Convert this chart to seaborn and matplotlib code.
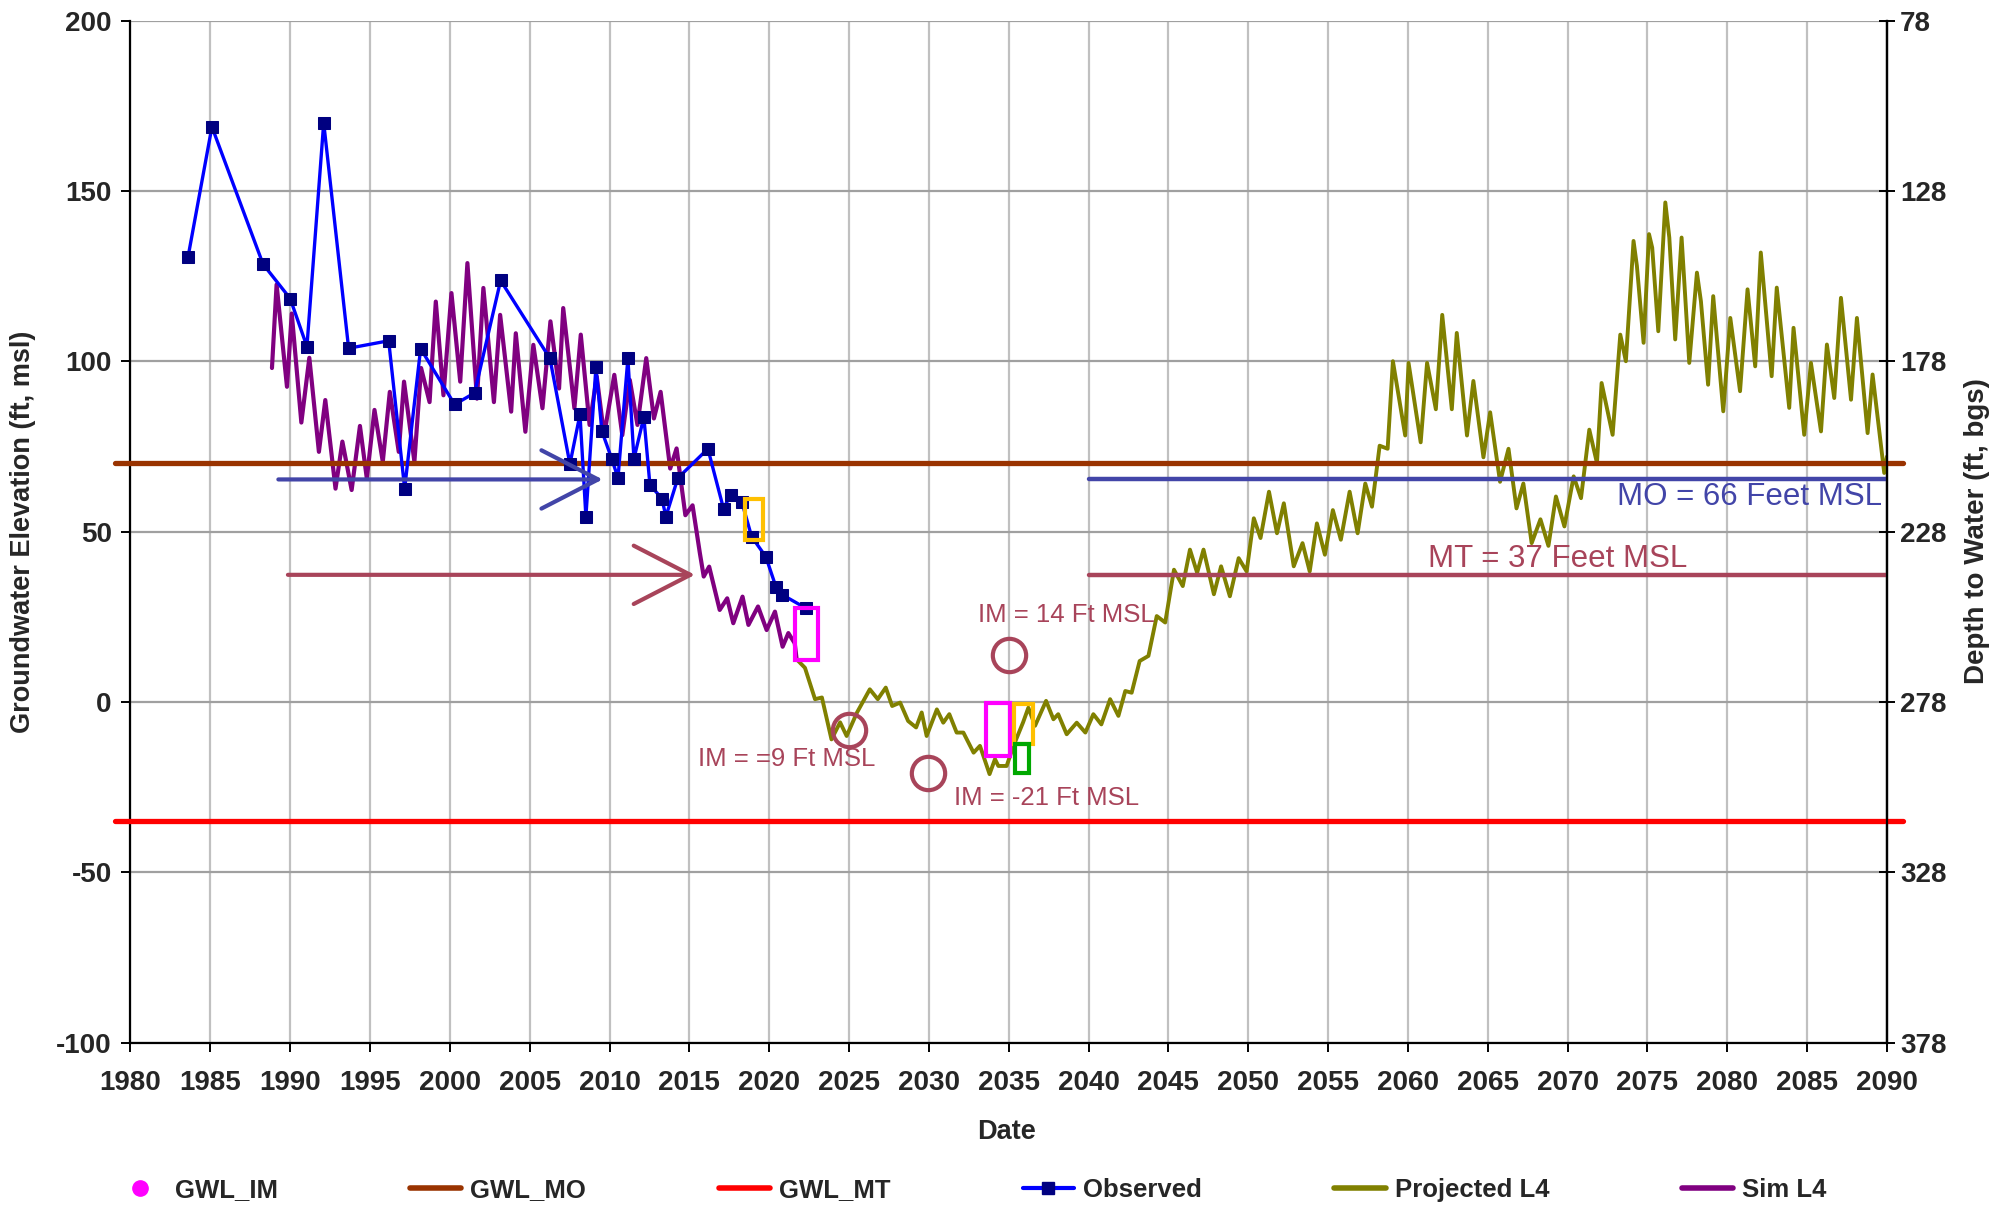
import numpy as np
import pandas as pd
import matplotlib
matplotlib.use("Agg")
import matplotlib.pyplot as plt
import seaborn as sns
from matplotlib.lines import Line2D
from matplotlib.patches import Rectangle

# ---- observed groundwater elevations (ft msl)
obs_year = [1983.6, 1985.1, 1988.3, 1990.0, 1991.05, 1992.1, 1993.66, 1996.17, 1997.17,
            1998.17, 2000.3, 2001.55, 2003.18, 2006.27, 2007.52, 2008.15, 2008.52, 2009.15,
            2009.52, 2010.15, 2010.53, 2011.15, 2011.53, 2012.15, 2012.53, 2013.28, 2013.53,
            2014.28, 2016.16, 2017.14, 2017.58, 2018.29, 2018.9, 2019.79, 2020.42, 2020.8, 2022.3]
obs_elev = [130.5, 168.8, 128.5, 118.4, 104.3, 170.0, 103.8, 106.0, 62.6,
            103.7, 87.3, 90.7, 123.7, 100.8, 69.8, 84.4, 54.4, 98.4,
            79.5, 71.2, 65.7, 100.8, 71.4, 83.6, 63.7, 59.7, 54.4,
            65.7, 74.3, 56.7, 60.8, 58.6, 48.5, 42.6, 33.8, 31.5, 27.5]

# ---- simulated (Sim L4)
sim_year = [1988.86, 1989.15, 1989.8, 1990.1, 1990.7, 1991.2, 1991.8, 1992.2, 1992.84, 1993.27,
            1993.85, 1994.37, 1994.8, 1995.28, 1995.8, 1996.24, 1996.8, 1997.13, 1997.78, 1998.2,
            1998.73, 1999.12, 1999.6, 2000.1, 2000.65, 2001.1, 2001.7, 2002.1, 2002.76, 2003.15,
            2003.84, 2004.13, 2004.73, 2005.23, 2005.8, 2006.3, 2006.84, 2007.1, 2007.8, 2008.2,
            2008.75, 2009.2, 2009.66, 2010.3, 2010.8, 2011.27, 2011.75, 2012.3, 2012.78, 2013.2,
            2013.8, 2014.2, 2014.75, 2015.2, 2015.66, 2015.9, 2016.24, 2016.9, 2017.37, 2017.75,
            2018.33, 2018.7, 2019.3, 2019.84, 2020.36, 2020.84, 2021.2, 2021.6, 2021.72]
sim_elev = [98.0, 122.5, 92.5, 114.0, 82.0, 101.0, 73.4, 88.6, 62.6, 76.4,
            62.2, 81.0, 65.6, 85.7, 70.5, 91.0, 73.4, 94.0, 70.5, 98.0,
            88.0, 117.5, 90.0, 120.0, 94.0, 128.8, 89.0, 121.5, 88.0, 113.6,
            85.2, 108.2, 79.3, 104.8, 86.2, 111.7, 92.0, 115.6, 86.2, 107.8,
            81.3, 95.5, 78.3, 96.0, 78.3, 94.5, 81.3, 100.9, 83.2, 91.0,
            68.5, 74.4, 54.8, 57.7, 43.6, 36.8, 39.7, 27.0, 30.4, 23.1,
            30.9, 22.6, 28.0, 21.1, 26.5, 16.2, 20.2, 17.2, 12.4]

# ---- projected (Projected L4)
proj_year = [2021.72, 2022.24, 2022.87, 2023.3, 2023.9, 2024.44, 2024.85, 2025.5, 2026.3, 2026.8,
             2027.3, 2027.7, 2028.2, 2028.7, 2029.2, 2029.55, 2029.86, 2030.5, 2030.9, 2031.28,
             2031.74, 2032.16, 2032.8, 2033.2, 2033.8, 2034.14, 2034.35, 2034.87, 2035.3, 2035.9,
             2036.23, 2036.65, 2037.34, 2037.8, 2038.1, 2038.63, 2039.26, 2039.8, 2040.3, 2040.8,
             2041.35, 2041.87, 2042.3, 2042.7, 2043.2, 2043.75, 2044.27, 2044.8, 2045.35, 2045.9,
             2046.35, 2046.8, 2047.2, 2047.85, 2048.3, 2048.85, 2049.4, 2049.9, 2050.35, 2050.77,
             2051.3, 2051.8, 2052.23, 2052.85, 2053.4, 2053.85, 2054.3, 2054.8, 2055.3, 2055.8,
             2056.35, 2056.85, 2057.33, 2057.75, 2058.23, 2058.73, 2059.06, 2059.83, 2060.04, 2060.8,
             2061.2, 2061.75, 2062.15, 2062.75, 2063.06, 2063.7, 2064.1, 2064.73, 2065.15, 2065.77,
             2066.3, 2066.8, 2067.23, 2067.75, 2068.3, 2068.8, 2069.27, 2069.8, 2070.38, 2070.84,
             2071.36, 2071.84, 2072.13, 2072.82, 2073.3, 2073.65, 2074.13, 2074.34, 2074.76, 2075.1,
             2075.3, 2075.68, 2076.12, 2076.37, 2076.74, 2077.14, 2077.62, 2078.1, 2078.35, 2078.8,
             2079.12, 2079.75, 2080.19, 2080.8, 2081.27, 2081.75, 2082.1, 2082.78, 2083.1, 2083.88,
             2084.15, 2084.82, 2085.24, 2085.87, 2086.24, 2086.7, 2087.12, 2087.75, 2088.12, 2088.79,
             2089.1, 2089.83, 2090.0]
proj_elev = [12.5, 10.0, 0.8, 1.3, -11.0, -6.0, -10.0, -3.1, 3.7, 0.8,
             4.2, -1.2, -0.2, -5.6, -7.5, -3.1, -10.0, -2.2, -6.1, -3.6,
             -9.0, -9.0, -14.9, -12.9, -21.2, -16.8, -18.8, -18.8, -12.9, -6.0,
             -1.7, -7.0, 0.3, -5.1, -3.6, -9.5, -6.1, -9.0, -3.6, -6.6,
             0.8, -4.1, 3.2, 2.7, 12.0, 13.5, 25.2, 23.3, 38.8, 34.0,
             44.7, 37.9, 44.7, 31.6, 39.8, 31.0, 42.2, 38.3, 53.9, 48.1,
             61.7, 49.5, 58.3, 39.8, 46.6, 38.3, 52.4, 43.2, 56.3, 47.6,
             61.7, 49.5, 64.1, 57.3, 75.2, 74.3, 100.0, 78.2, 99.5, 76.2,
             99.5, 85.9, 113.6, 85.9, 108.3, 78.2, 94.2, 71.8, 85.0, 64.6,
             74.3, 56.8, 64.1, 46.6, 53.6, 45.8, 60.3, 51.5, 66.2, 59.8,
             79.9, 70.1, 93.6, 78.4, 107.8, 100.0, 135.3, 128.0, 105.4, 137.3,
             133.3, 108.8, 146.6, 136.3, 106.4, 136.3, 99.5, 126.0, 117.6, 93.1,
             119.1, 85.3, 112.7, 91.2, 121.1, 98.5, 131.9, 95.6, 121.6, 86.3,
             109.8, 78.4, 99.5, 79.4, 104.9, 89.2, 118.6, 88.7, 112.7, 78.9,
             96.1, 67.2, 72.0]

# ---- thresholds
gwl_mo = 70
gwl_mt = -35
ref_span = [1979.0, 2091.0]
mo_level = 65.3
mt_level = 37.3
mo_arrow = [1989.26, 2009.57]
mt_arrow = [1989.86, 2015.35]
right_span = [2040.0, 2090.3]

# ---- interim milestones
im_year = [2035.03, 2024.97, 2029.95]
im_elev = [13.9, -8.1, -21.0]
im_labels = ["IM = 14 Ft MSL", "IM = =9 Ft MSL", "IM = -21 Ft MSL"]
im_label_pos = [(2038.6, 25.6), (2021.1, -16.7), (2037.4, -28.2)]

# boxes: (x0, x1, y0, y1, colour)
boxes = [(2018.5, 2019.6, 47.5, 59.6, "#FFC000"),
         (2021.6, 2023.07, 12.4, 27.5, "#FF00FF"),
         (2033.6, 2035.07, -16.0, -0.3, "#FF00FF"),
         (2035.33, 2036.5, -12.5, -0.5, "#FFC000"),
         (2035.4, 2036.3, -21.0, -12.5, "#00A800")]

mauve = "#A8445A"
slate = "#4245A8"

sns.set_theme(style="white")
plt.rcParams['font.family'] = ['Liberation Sans', 'DejaVu Sans']
plt.rcParams['axes.unicode_minus'] = False

fig = plt.figure(figsize=(20.06, 12.05), dpi=100)
ax = fig.add_axes([0.06505, 0.13477, 0.8756, 0.8482])

ax.set_xlim(1980, 2090)
ax.set_ylim(-100, 200)
ax.set_xticks(range(1980, 2091, 5))
ax.set_yticks(range(-100, 201, 50))
ax.grid(axis='x', color='#C0C0C0', lw=1.6, zorder=0)
ax.grid(axis='y', color='#A0A0A0', lw=1.6, zorder=0)
ax.set_axisbelow(True)

sns.lineplot(x=sim_year, y=sim_elev, ax=ax, color='#800080', lw=3.0,
             errorbar=None, estimator=None, sort=False, zorder=3)
sns.lineplot(x=proj_year, y=proj_elev, ax=ax, color='#808000', lw=2.8,
             errorbar=None, estimator=None, sort=False, zorder=3)

ax.plot(ref_span, [gwl_mo, gwl_mo], color='#993300', lw=3.8, clip_on=False, zorder=4)
ax.plot(ref_span, [gwl_mt, gwl_mt], color='#FF0000', lw=3.8, clip_on=False, zorder=4)

sns.lineplot(x=obs_year, y=obs_elev, ax=ax, color='#0000FF', lw=2.4, marker='s',
             markersize=8, markerfacecolor='#000080', markeredgecolor='#000080',
             errorbar=None, estimator=None, sort=False, zorder=5)

# MO / MT arrows and right-hand lines
for level, span, col in [(mo_level, mo_arrow, slate), (mt_level, mt_arrow, mauve)]:
    ax.annotate("", xy=(span[1], level), xytext=(span[0], level),
                arrowprops=dict(arrowstyle="->,head_length=3.4,head_width=1.75",
                                color=col, lw=3, shrinkA=0, shrinkB=0), zorder=6)
    ax.plot(right_span, [level, level], color=col, lw=3.2, zorder=6)

ax.text(2089.7, 60, "MO = 66 Feet MSL", color=slate, fontsize=22.5, ha='right', va='center', zorder=7)
ax.text(2069.4, 42, "MT = 37 Feet MSL", color=mauve, fontsize=22.5, ha='center', va='center', zorder=7)

ax.plot(im_year, im_elev, 'o', ms=24, mfc='none', mec=mauve, mew=3, zorder=7)
for lab, (lx, ly) in zip(im_labels, im_label_pos):
    ax.text(lx, ly, lab, color=mauve, fontsize=18.5, ha='center', va='center', zorder=7)

for x0, x1, y0, y1, col in boxes:
    ax.add_patch(Rectangle((x0, y0), x1 - x0, y1 - y0, fill=False, ec=col, lw=3, zorder=8))

# spines / ticks
for s in ['left', 'bottom', 'right']:
    ax.spines[s].set_color('black')
    ax.spines[s].set_linewidth(1.6)
ax.spines['top'].set_visible(False)
ax.tick_params(axis='both', which='major', labelsize=20, direction='out', length=6.5,
               width=1.4, color='black', left=True, bottom=True)
ax.tick_params(axis='y', pad=7)
ax.tick_params(axis='x', pad=13)
for lab in ax.get_xticklabels() + ax.get_yticklabels():
    lab.set_fontweight('bold')

ax.set_xlabel("Date", fontsize=19.5, fontweight='bold')
ax.xaxis.set_label_coords(0.499, -0.0752)
ax.set_ylabel("Groundwater Elevation (ft, msl)", fontsize=19.5, fontweight='bold')
ax.yaxis.set_label_coords(-0.0538, 0.5)

ax2 = ax.twinx()
ax2.set_ylim(378, 78)
ax2.set_yticks(np.arange(78, 379, 50))
ax2.grid(False)
for s in ['top', 'left', 'bottom']:
    ax2.spines[s].set_visible(False)
ax2.spines['right'].set_color('black')
ax2.spines['right'].set_linewidth(1.6)
ax2.tick_params(axis='y', labelsize=20, direction='inout', length=11, width=1.4,
                color='black', right=True, pad=4)
for lab in ax2.get_yticklabels():
    lab.set_fontweight('bold')
ax2.set_ylabel("Depth to Water (ft, bgs)", fontsize=20, fontweight='bold')
ax2.yaxis.set_label_coords(1.0436, 0.5)

handles = [
    Line2D([], [], ls='none', marker='o', ms=11, mfc='#FF00FF', mec='#FF00FF'),
    Line2D([], [], color='#993300', lw=4),
    Line2D([], [], color='#FF0000', lw=4),
    Line2D([], [], color='#0000FF', lw=3, marker='s', ms=8, mfc='#000080', mec='#000080'),
    Line2D([], [], color='#808000', lw=4),
    Line2D([], [], color='#800080', lw=4),
]
labels = ["GWL_IM", "GWL_MO", "GWL_MT", "Observed", "Projected L4", "Sim L4"]
fig.legend(handles, labels, loc='center', bbox_to_anchor=(0.4837, 0.0124), ncol=6,
           frameon=False, prop=dict(weight='bold', size=18.5), handlelength=2.0,
           handletextpad=0.35, columnspacing=5.15)

fig.savefig("out.png", dpi=100)
